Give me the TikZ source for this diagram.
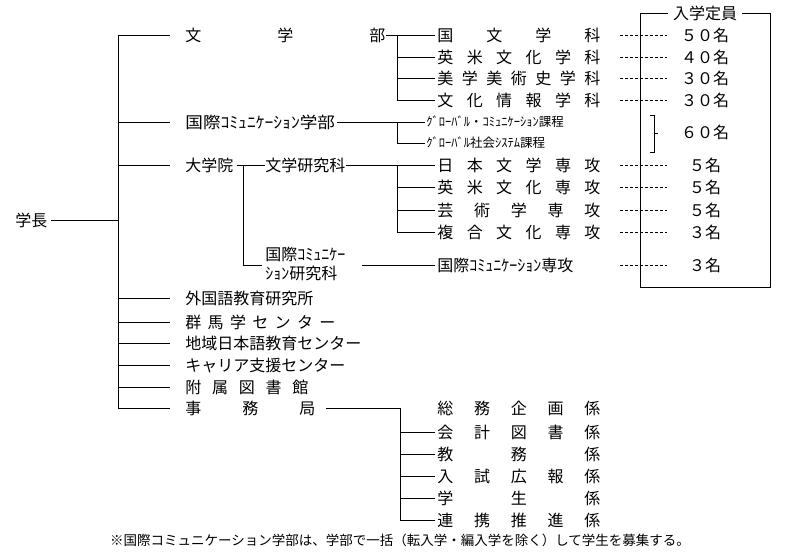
\documentclass[tikz,border=0pt]{standalone}
\usepackage{fontspec}
\setmainfont{Noto Sans CJK JP}
\newcommand{\spr}[2]{\makebox[#1pt][s]{#2}}
\begin{document}
\begin{tikzpicture}[x=1pt,y=-1pt,line width=0.8pt,
  t/.style={anchor=west,inner sep=0pt,font=\fontsize{16}{16}\selectfont},
  s/.style={anchor=west,inner sep=0pt,font=\fontsize{12.5}{12.5}\selectfont},
  n/.style={inner sep=0pt,font=\fontsize{16}{16}\selectfont},
  dl/.style={dashed,dash pattern=on 3pt off 2pt,line width=0.6pt}]
\useasboundingbox (0,0) rectangle (794,551);
% president
\node[t] (pres) at (15,220) {学長};
\coordinate (tk) at (118,220);
\draw (pres.east)+(3,0) -- (tk);
\draw (118,35) -- (118,408);
% level 1
\foreach \y/\nm in {35/a,122/b,165/c,298/d,322/e,343/f,365/g,387/h,408/i}
  {\coordinate (b\nm) at (170,\y); \draw (118,\y) -- (b\nm);}
\node[t] (bun) at (185,35) {\spr{200}{文\hfill 学\hfill 部}};
\node[t] (koku) at (185,122) {\scalebox{1.1}[1]{国際ｺﾐｭﾆｹｰｼｮﾝ学部}};
\node[t] (dai) at (185,165) {大学院};
\node[t] (gai) at (185,298) {外国語教育研究所};
\node[t] (gun) at (185,322) {\spr{150}{群\hfill 馬\hfill 学\hfill セ\hfill ン\hfill タ\hfill ー}};
\node[t] (chi) at (185,343) {地域日本語教育センター};
\node[t] (car) at (185,365) {キャリア支援センター};
\node[t] (fuz) at (185,387) {\spr{123}{附\hfill 属\hfill 図\hfill 書\hfill 館}};
\node[t] (jim) at (185,408) {\spr{130}{事\hfill 務\hfill 局}};
% 文学部
\draw (bun.east) -- (435,35);
\draw (397,35) -- (397,100);
\foreach \y in {57,78,100} \draw (397,\y) -- (435,\y);
\node[t] (d1) at (437,35) {\spr{163}{国\hfill 文\hfill 学\hfill 科}};
\node[t] (d2) at (437,57) {\spr{163}{英\hfill 米\hfill 文\hfill 化\hfill 学\hfill 科}};
\node[t] (d3) at (437,78) {\spr{163}{美\hfill 学\hfill 美\hfill 術\hfill 史\hfill 学\hfill 科}};
\node[t] (d4) at (437,100) {\spr{163}{文\hfill 化\hfill 情\hfill 報\hfill 学\hfill 科}};
% 国際学部
\draw (koku.east)+(2,0) -- (425,122);
\draw (397,122) -- (397,143) -- (425,143);
\node[s] (c1) at (426,122) {ｸﾞﾛｰﾊﾞﾙ・ｺﾐｭﾆｹｰｼｮﾝ課程};
\node[s] (c2) at (426,143) {ｸﾞﾛｰﾊﾞﾙ社会ｼｽﾃﾑ課程};
% 大学院
\node[t] (bk) at (265,165) {文学研究科};
\draw (dai.east)+(3,0) -- (bk.west);
\draw (243,165) -- (243,265) -- (262,265);
\node[t,align=left] (kk) at (265,264) {国際ｺﾐｭﾆｹｰ\\[3pt]ｼｮﾝ研究科};
\draw (bk.east) -- (435,165);
\draw (397,165) -- (397,232);
\foreach \y in {187,210,232} \draw (397,\y) -- (435,\y);
\node[t] (g1) at (437,165) {\spr{163}{日\hfill 本\hfill 文\hfill 学\hfill 専\hfill 攻}};
\node[t] (g2) at (437,187) {\spr{163}{英\hfill 米\hfill 文\hfill 化\hfill 専\hfill 攻}};
\node[t] (g3) at (437,210) {\spr{163}{芸\hfill 術\hfill 学\hfill 専\hfill 攻}};
\node[t] (g4) at (437,232) {\spr{163}{複\hfill 合\hfill 文\hfill 化\hfill 専\hfill 攻}};
\draw (362,265) -- (435,265);
\node[t] (g5) at (437,265) {国際ｺﾐｭﾆｹｰｼｮﾝ専攻};
% 事務局
\draw (jim.east) ++(10,0) -- (400,408);
\draw (400,408) -- (400,520);
\foreach \y in {432,454,476,498,520} \draw (400,\y) -- (435,\y);
\node[t] (j1) at (437,408) {\spr{163}{総\hfill 務\hfill 企\hfill 画\hfill 係}};
\node[t] (j2) at (437,432) {\spr{163}{会\hfill 計\hfill 図\hfill 書\hfill 係}};
\node[t] (j3) at (437,454) {\spr{163}{教\hfill 務\hfill 係}};
\node[t] (j4) at (437,476) {\spr{163}{入\hfill 試\hfill 広\hfill 報\hfill 係}};
\node[t] (j5) at (437,498) {\spr{163}{学\hfill 生\hfill 係}};
\node[t] (j6) at (437,520) {\spr{163}{連\hfill 携\hfill 推\hfill 進\hfill 係}};
% quota box
\node[n] (qt) at (705,13) {入学定員};
\draw (qt.west)+(-5,0) -- (640,13) -- (640,287) -- (770,287) -- (770,13) -- ([xshift=5pt]qt.east);
\foreach \y/\v in {35/５０名,57/４０名,78/３０名,100/３０名,165/５名,187/５名,210/５名,232/３名,265/３名}
  {\draw[dl] (620,\y) -- (667,\y); \node[n] at (705,\y) {\v};}
\draw[line width=0.6pt] (650,115) -- (654,115) -- (654,152) -- (650,152) (654,133) -- (658,133);
\node[n] (q6) at (705,132) {６０名};
% footnote
\node[inner sep=0pt,font=\fontsize{13.5}{13.5}\selectfont] (fn) at (400,540) {※国際コミュニケーション学部は、学部で一括（転入学・編入学を除く）して学生を募集する。};
\end{tikzpicture}
\end{document}
